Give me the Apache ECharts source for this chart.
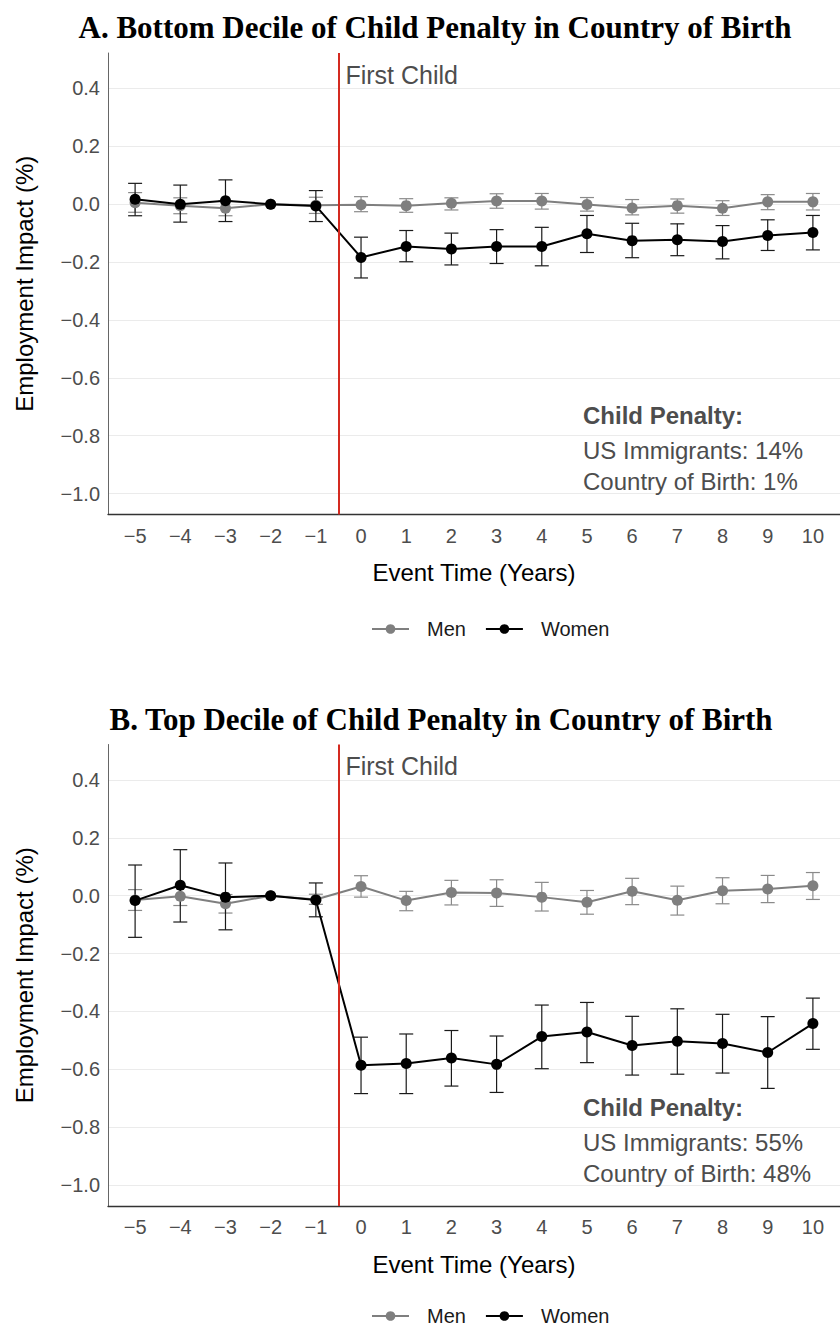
<!DOCTYPE html>
<html><head><meta charset="utf-8">
<script src="https://cdn.jsdelivr.net/npm/echarts@6/dist/echarts.min.js"></script>
<style>html,body{margin:0;padding:0;background:#fff}#c{width:840px;height:1329px}</style>
</head><body><div id="c"></div>
<script>
// ---- data ----
const eventTime = [-5,-4,-3,-2,-1,0,1,2,3,4,5,6,7,8,9,10];
const yTicks = [-1.0,-0.8,-0.6,-0.4,-0.2,0.0,0.2,0.4];

// Panel A: bottom decile
const aMen    = [0.005,-0.005,-0.014,0,-0.004,-0.002,-0.005,0.003,0.011,0.011,-0.001,-0.013,-0.005,-0.014,0.008,0.008];
const aMenLo  = [-0.028,-0.033,-0.040,null,-0.032,-0.026,-0.028,-0.020,-0.014,-0.017,-0.024,-0.037,-0.031,-0.039,-0.019,-0.020];
const aMenHi  = [0.040,0.022,0.012,null,0.024,0.026,0.019,0.022,0.036,0.037,0.023,0.016,0.018,0.012,0.033,0.037];
const aWomen  = [0.017,0.000,0.012,0,-0.006,-0.184,-0.146,-0.155,-0.146,-0.146,-0.102,-0.126,-0.123,-0.129,-0.108,-0.098];
const aWomenLo= [-0.040,-0.062,-0.060,null,-0.060,-0.255,-0.199,-0.210,-0.205,-0.213,-0.167,-0.185,-0.178,-0.189,-0.160,-0.158];
const aWomenHi= [0.072,0.066,0.084,null,0.047,-0.114,-0.091,-0.100,-0.088,-0.080,-0.039,-0.066,-0.068,-0.074,-0.054,-0.039];

// Panel B: top decile
const bMen    = [-0.015,-0.002,-0.028,0,-0.013,0.032,-0.017,0.011,0.009,-0.005,-0.023,0.015,-0.016,0.017,0.023,0.034];
const bMenLo  = [-0.051,-0.034,-0.060,null,-0.030,-0.005,-0.052,-0.032,-0.037,-0.053,-0.064,-0.031,-0.067,-0.028,-0.024,-0.013];
const bMenHi  = [0.021,0.030,0.004,null,0.005,0.069,0.015,0.053,0.055,0.046,0.018,0.060,0.033,0.062,0.070,0.080];
const bWomen  = [-0.017,0.036,-0.005,0,-0.015,-0.586,-0.580,-0.561,-0.583,-0.487,-0.471,-0.518,-0.503,-0.511,-0.542,-0.442];
const bWomenLo= [-0.144,-0.091,-0.118,null,-0.073,-0.684,-0.684,-0.658,-0.680,-0.598,-0.577,-0.620,-0.617,-0.613,-0.666,-0.531];
const bWomenHi= [0.106,0.159,0.113,null,0.044,-0.489,-0.478,-0.466,-0.485,-0.378,-0.369,-0.417,-0.391,-0.410,-0.418,-0.354];

const titles = ['A. Bottom Decile of Child Penalty in Country of Birth','B. Top Decile of Child Penalty in Country of Birth'];
const penaltyLines = [
  ['Child Penalty:','US Immigrants: 14%','Country of Birth: 1%'],
  ['Child Penalty:','US Immigrants: 55%','Country of Birth: 48%']
];
const firstChildAt = -0.5;

// ---- styling ----
const SANS = '"Liberation Sans", Arial, sans-serif';
const MEN = '#7f7f7f', WOMEN = '#000000';
const panelTop = [53, 744.5];
const panelH = 461.5;
const legendTop = [614, 1301];
const titleCenter = [430, 436];
const MINUS = '\u2212';
const fmtX = v => (v < 0 ? MINUS + Math.abs(v) : String(v));
const fmtY = v => { const s = Math.abs(v).toFixed(1); return (v < -1e-9 ? MINUS : '') + s; };

function pts(vals){ return eventTime.map((x,i)=>[x, vals[i]]); }
function errs(lo, hi){ const r=[]; eventTime.forEach((x,i)=>{ if(lo[i]!==null && hi[i]!==null) r.push([x, lo[i], hi[i]]); }); return r; }
function errRender(color){
  return function(params, api){
    const x = api.value(0), lo = api.value(1), hi = api.value(2);
    const t = api.coord([x, hi]), b = api.coord([x, lo]);
    const w = 7;
    const style = {stroke: color, lineWidth: 1.2, fill: null};
    return {type:'group', children:[
      {type:'line', shape:{x1:t[0],y1:t[1],x2:b[0],y2:b[1]}, style},
      {type:'line', shape:{x1:t[0]-w,y1:t[1],x2:t[0]+w,y2:t[1]}, style},
      {type:'line', shape:{x1:b[0]-w,y1:b[1],x2:b[0]+w,y2:b[1]}, style}
    ]};
  };
}

const grids=[], xAxes=[], yAxes=[], series=[], titleCmp=[], legends=[];
const panels = [
  {men:aMen, menLo:aMenLo, menHi:aMenHi, women:aWomen, womenLo:aWomenLo, womenHi:aWomenHi},
  {men:bMen, menLo:bMenLo, menHi:bMenHi, women:bWomen, womenLo:bWomenLo, womenHi:bWomenHi}
];
panels.forEach((p, k) => {
  grids.push({left:108, right:-7, top:panelTop[k], height:panelH});
  xAxes.push({
    type:'value', gridIndex:k, min:-5.6, max:10.6,
    axisLine:{show:true, onZero:false, lineStyle:{color:'#333', width:1.3}},
    axisTick:{show:false, customValues:eventTime},
    axisLabel:{customValues:eventTime, formatter:fmtX, fontSize:20, color:'#4d4d4d', fontFamily:SANS, margin:11},
    splitLine:{show:false},
    name:'Event Time (Years)', nameLocation:'middle', nameGap:46,
    nameTextStyle:{fontSize:24, color:'#000', fontFamily:SANS}
  });
  yAxes.push({
    type:'value', gridIndex:k, min:-1.0725, max:0.5225,
    axisLine:{show:true, onZero:false, lineStyle:{color:'#666', width:1}},
    axisTick:{show:false, customValues:yTicks},
    axisLabel:{customValues:yTicks, formatter:fmtY, fontSize:20, color:'#4d4d4d', fontFamily:SANS, margin:8},
    splitLine:{show:true, lineStyle:{color:'#ebebeb', width:1}},
    name:'Employment Impact (%)', nameLocation:'middle', nameGap:72,
    nameTextStyle:{fontSize:24, color:'#000', fontFamily:SANS}
  });
  series.push({type:'custom', name:'Men CI', xAxisIndex:k, yAxisIndex:k, data:errs(p.menLo,p.menHi), renderItem:errRender('#8a8a8a'), z:1, silent:true});
  series.push({type:'custom', name:'Women CI', xAxisIndex:k, yAxisIndex:k, data:errs(p.womenLo,p.womenHi), renderItem:errRender('#1a1a1a'), z:2, silent:true});
  series.push({type:'line', name:'Men', xAxisIndex:k, yAxisIndex:k, data:pts(p.men), symbol:'circle', symbolSize:11, showSymbol:true,
    lineStyle:{color:MEN, width:2}, itemStyle:{color:MEN}, z:3,
    markLine:{silent:true, symbol:'none', animation:false, label:{show:false},
      lineStyle:{color:'#d42a20', width:2, type:'solid'}, data:[{xAxis:firstChildAt}]}});
  series.push({type:'line', name:'Women', xAxisIndex:k, yAxisIndex:k, data:pts(p.women), symbol:'circle', symbolSize:11, showSymbol:true,
    lineStyle:{color:WOMEN, width:2}, itemStyle:{color:WOMEN}, z:4});
  titleCmp.push({text:titles[k], left:titleCenter[k], textAlign:'center', top:panelTop[k]-46,
    textStyle:{fontFamily:'"Liberation Serif", serif', fontWeight:'bold', fontSize:31, color:'#000'}});
  legends.push({data:['Men','Women'], top:legendTop[k], left:366, itemWidth:37, itemHeight:12, itemGap:19,
    textStyle:{fontSize:20, color:'#1a1a1a', fontFamily:SANS, padding:[0,0,0,13]}, selectedMode:false});
});

const chart = echarts.init(document.getElementById('c'), null, {renderer:'svg'});
chart.setOption({
  animation:false, backgroundColor:'#fff',
  title:titleCmp, legend:legends, grid:grids, xAxis:xAxes, yAxis:yAxes, series:series
});

// annotations
const graphics = [];
panels.forEach((p,k)=>{
  const lineX = chart.convertToPixel({gridIndex:k}, [firstChildAt, 0])[0];
  graphics.push({type:'text', left:lineX+7, top:panelTop[k]+9,
    style:{text:'First Child', fontSize:25, fontFamily:SANS, fill:'#4d4d4d'}});
  const ys = [363.7, 398.7, 429.7];
  penaltyLines[k].forEach((t,i)=>{
    graphics.push({type:'text', left:583, top:panelTop[k]+ys[i]-13,
      style:{text:t, fontSize:24, fontWeight:i===0?'bold':'normal', fontFamily:SANS, fill:'#4d4d4d'}});
  });
});
chart.setOption({graphic:graphics});
</script>
</body></html>
